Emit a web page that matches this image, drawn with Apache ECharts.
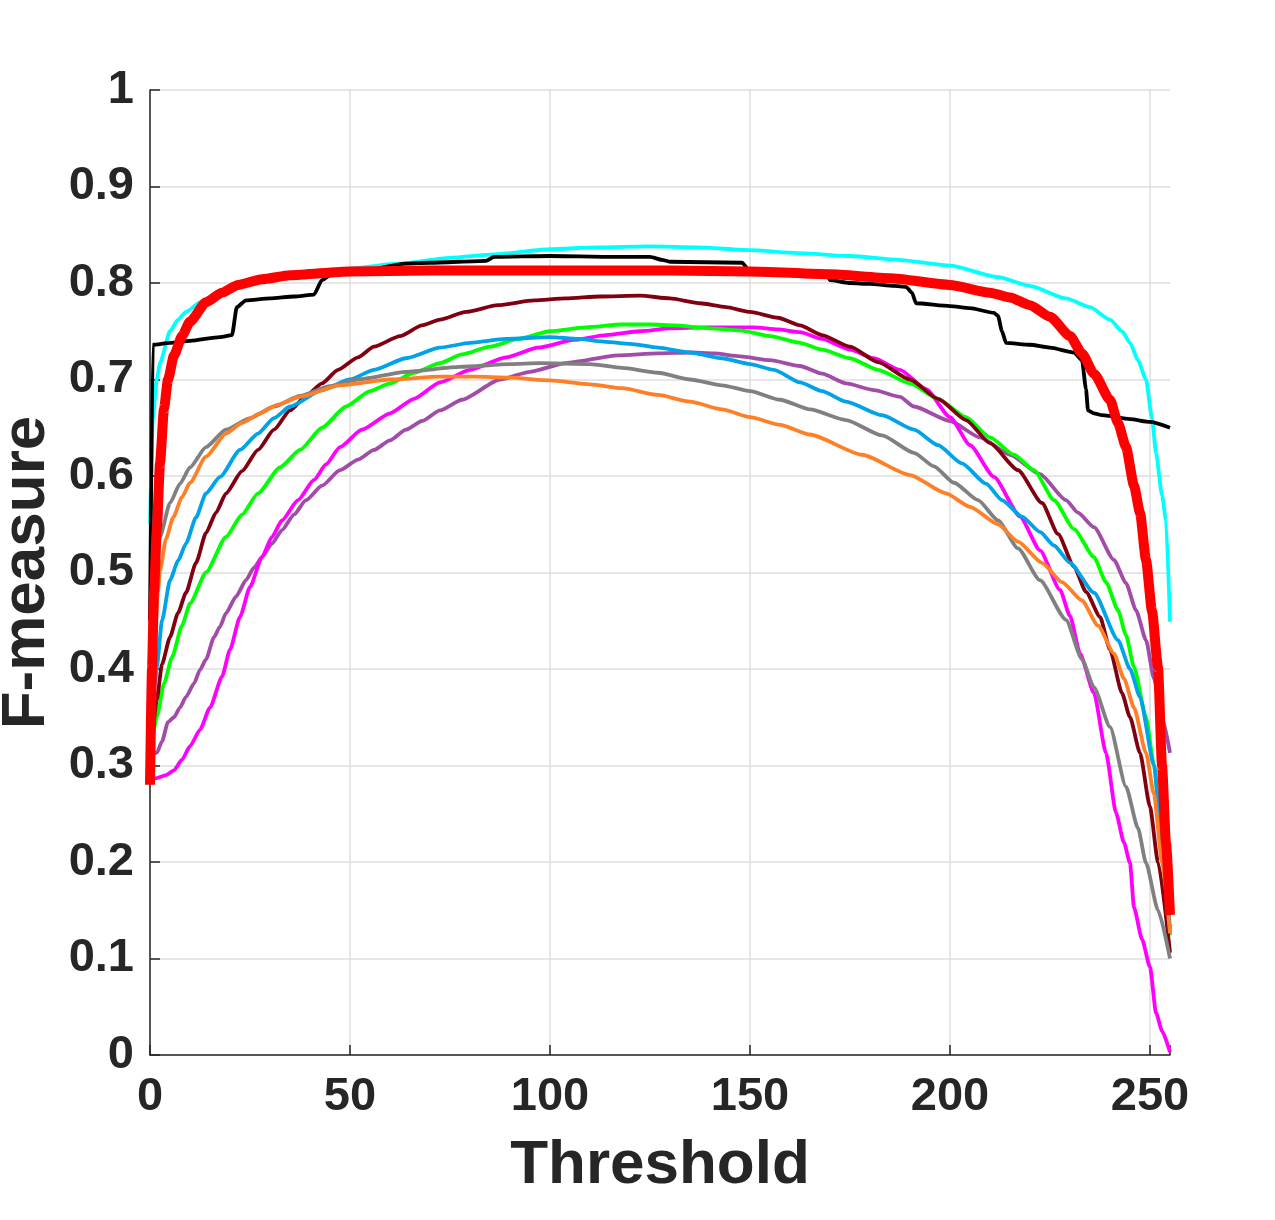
<!DOCTYPE html>
<html>
<head>
<meta charset="utf-8">
<script src="https://cdn.jsdelivr.net/npm/echarts@6/dist/echarts.min.js"></script>
<style>
    html, body { margin: 0; padding: 0; background: #fff; }
    #chart { width: 1275px; height: 1220px; }
</style>
</head>
<body>
<div id="chart"></div>
<script>
    // threshold / F-measure pairs
    var purplePts = [[0,0.313],[1.7,0.313],[3,0.325],[4.5,0.345],[6,0.35],[7.5,0.36],[9,0.371],[11,0.385],[12.5,0.399],[14,0.41],[16,0.433],[17.5,0.444],[19,0.458],[21.5,0.475],[24,0.492],[26,0.505],[28,0.516],[30.5,0.53],[33,0.544],[36,0.56],[39,0.575],[43,0.59],[47.5,0.606],[52,0.617],[56,0.627],[60,0.637],[64,0.648],[68,0.657],[72.5,0.668],[78,0.679],[87.5,0.70],[95,0.708],[104,0.717],[117,0.725],[127,0.727],[135,0.728],[141,0.727],[147.5,0.724],[155,0.72],[162.5,0.714],[168,0.706],[174,0.696],[181,0.689],[187.5,0.682],[191,0.672],[200,0.657],[207.5,0.64],[215,0.622],[222.5,0.602],[229,0.575],[232,0.562],[236,0.547],[241,0.513],[244,0.489],[246.5,0.461],[249,0.43],[251,0.39],[253,0.35],[255,0.313]];
    var magentaPts = [[0,0.285],[1.7,0.287],[4,0.29],[6,0.295],[8,0.306],[10,0.32],[12.5,0.337],[15,0.36],[18,0.392],[20,0.42],[22.5,0.454],[25,0.485],[28,0.516],[30.5,0.537],[33,0.554],[37,0.575],[41,0.596],[44,0.612],[47.5,0.63],[53,0.648],[60,0.665],[66,0.68],[72.5,0.697],[80,0.71],[89,0.723],[97,0.733],[106,0.741],[114,0.746],[122.5,0.75],[130,0.753],[139,0.754],[151,0.754],[157,0.752],[162.5,0.749],[168,0.742],[175,0.731],[181,0.722],[187.5,0.71],[194,0.69],[200,0.661],[205,0.632],[211,0.599],[217.5,0.558],[222.5,0.523],[227.5,0.482],[230,0.455],[232.5,0.416],[236,0.375],[239,0.313],[241.5,0.251],[243.5,0.22],[245,0.199],[246,0.153],[248,0.12],[250,0.091],[251.5,0.044],[253,0.025],[255,0.003]];
    var greenPts = [[0,0.31],[1.7,0.35],[3.5,0.385],[5.5,0.412],[8,0.445],[10,0.468],[14,0.50],[19,0.537],[23,0.56],[27,0.582],[32.5,0.609],[37.5,0.627],[43,0.65],[49,0.672],[55,0.688],[60,0.696],[66,0.707],[72.5,0.717],[78,0.726],[85,0.734],[92,0.742],[100,0.75],[109,0.754],[118,0.757],[125,0.757],[131,0.756],[140,0.753],[147.5,0.751],[155,0.745],[162.5,0.738],[168,0.731],[175,0.722],[182,0.71],[190,0.696],[197,0.68],[204,0.661],[210,0.64],[216,0.622],[221,0.606],[226,0.575],[231,0.545],[236,0.516],[239,0.49],[242,0.461],[244,0.435],[246,0.402],[249,0.35],[251,0.3],[253,0.22],[255,0.124]];
    var darkRedPts = [[0,0.30],[1.7,0.368],[3,0.405],[5,0.433],[7,0.458],[9,0.479],[11.5,0.51],[14,0.541],[16.5,0.562],[19,0.582],[23,0.605],[27,0.627],[31,0.648],[35,0.668],[39,0.683],[43,0.696],[47,0.71],[52,0.723],[56,0.734],[62.5,0.745],[68,0.756],[72.5,0.762],[79,0.77],[87,0.777],[96,0.782],[104,0.784],[112.5,0.786],[122.5,0.787],[130,0.784],[137.5,0.779],[144,0.775],[150,0.77],[157,0.764],[162.5,0.756],[168,0.746],[175,0.734],[182,0.718],[190,0.70],[197,0.68],[204,0.658],[210,0.634],[217,0.606],[223,0.572],[227,0.54],[231,0.506],[234,0.48],[237.5,0.454],[240,0.42],[243,0.375],[245,0.35],[247.5,0.313],[250,0.257],[252,0.2],[255,0.106]];
    var bluePts = [[0,0.33],[1.25,0.385],[1.7,0.402],[3,0.45],[5,0.492],[7,0.512],[9,0.53],[11.5,0.557],[14,0.582],[17.5,0.599],[22.5,0.627],[27,0.644],[31,0.66],[35,0.672],[43,0.689],[50,0.70],[56,0.71],[64,0.722],[72.5,0.733],[80,0.738],[89,0.742],[100,0.744],[107,0.742],[114,0.739],[120,0.737],[127,0.733],[135,0.728],[143,0.722],[150,0.716],[156,0.71],[162.5,0.697],[168,0.688],[174,0.677],[183,0.663],[191,0.648],[197,0.632],[203,0.613],[209,0.592],[213,0.575],[218,0.558],[222.5,0.542],[226,0.528],[230,0.51],[236,0.479],[242,0.43],[245,0.40],[247.5,0.371],[251,0.30],[253,0.22],[255,0.13]];
    var grayPts = [[0,0.45],[1,0.50],[2.5,0.537],[5,0.572],[7.5,0.592],[10,0.609],[14,0.63],[19,0.648],[25,0.66],[31,0.672],[37.5,0.683],[45,0.693],[52,0.70],[64,0.708],[77.5,0.713],[90,0.716],[97.5,0.717],[110,0.716],[118,0.712],[127,0.707],[135,0.70],[143,0.694],[150,0.688],[157.5,0.679],[165,0.669],[174,0.658],[183,0.642],[191,0.624],[196,0.61],[201,0.593],[207,0.575],[212,0.554],[217,0.525],[222.5,0.492],[229,0.451],[233,0.41],[236,0.381],[240,0.34],[244,0.278],[247,0.235],[249,0.199],[252,0.15],[255,0.10]];
    var orangePts = [[0,0.30],[1,0.42],[2,0.48],[2.5,0.502],[4,0.535],[5.8,0.557],[8,0.578],[10,0.593],[14,0.62],[19,0.644],[23,0.655],[27.5,0.665],[32,0.674],[37.5,0.682],[47.5,0.694],[60,0.70],[72.5,0.703],[81,0.703],[90,0.702],[100,0.699],[110,0.695],[118,0.691],[127,0.684],[135,0.677],[143,0.669],[150,0.661],[157.5,0.653],[165,0.643],[178,0.622],[190,0.601],[199,0.582],[205,0.568],[212,0.55],[217,0.532],[223,0.51],[228,0.49],[233,0.471],[237,0.445],[241,0.416],[243.5,0.39],[246,0.36],[249,0.313],[251,0.27],[253,0.2],[255,0.126]];
    var cyanPts = [[0,0.55],[0.7,0.66],[1.7,0.70],[2.5,0.717],[5,0.75],[7,0.762],[9,0.77],[12.5,0.78],[17,0.79],[22,0.797],[30,0.805],[40,0.811],[50,0.815],[62,0.82],[75,0.826],[87,0.83],[100,0.835],[112,0.837],[125,0.838],[137,0.837],[150,0.834],[162,0.831],[175,0.828],[187,0.824],[200,0.818],[212,0.806],[220,0.797],[229,0.784],[235,0.775],[240,0.762],[243,0.75],[245,0.738],[247,0.72],[249,0.70],[250.5,0.66],[251.5,0.624],[253,0.58],[254,0.554],[255,0.449]];
    var blackPts = [[0,0.45],[0.7,0.736],[5,0.738],[10,0.74],[17.5,0.744],[20.5,0.746],[21.7,0.775],[24,0.782],[30,0.784],[36,0.786],[41,0.788],[43,0.803],[45,0.808],[50,0.81],[64,0.82],[70,0.821],[84,0.823],[86,0.827],[100,0.828],[115,0.827],[125,0.827],[128,0.824],[130,0.822],[148,0.821],[150,0.812],[169,0.811],[170,0.803],[175,0.80],[180,0.799],[186,0.797],[189,0.796],[190.5,0.79],[191.5,0.779],[200,0.776],[205,0.774],[211,0.769],[212,0.766],[213,0.75],[214,0.738],[220,0.736],[225,0.733],[231,0.728],[233,0.72],[234,0.69],[234.5,0.668],[236,0.665],[238,0.663],[245,0.659],[250,0.656],[255,0.65]];
    var redPts = [[0,0.28],[0.5,0.40],[1,0.48],[1.7,0.544],[2.5,0.613],[3.5,0.67],[4.5,0.70],[6,0.725],[8,0.745],[10,0.76],[14,0.78],[18,0.79],[22,0.798],[28,0.804],[35,0.808],[50,0.812],[70,0.813],[100,0.813],[130,0.813],[150,0.812],[170,0.809],[185,0.805],[200,0.798],[210,0.79],[215,0.785],[220,0.777],[225,0.765],[230,0.745],[233,0.727],[236,0.706],[240,0.679],[242,0.655],[244,0.63],[246,0.59],[247.5,0.562],[249,0.513],[250.5,0.46],[252,0.402],[253,0.30],[254,0.22],[255,0.145]];

    var xTicks = [0, 50, 100, 150, 200, 250];

    var chartView = echarts.init(document.getElementById('chart'));
    var theFont = 'Liberation Sans, Arial, sans-serif';
    var textColor = '#262626';

    function line(pts, color, width) {
        return {
            type: 'line',
            data: pts,
            symbol: 'none',
            smooth: 0.2,
            smoothMonotone: 'x',
            animation: false,
            lineStyle: {color: color, width: width, join: 'round'},
            itemStyle: {color: color}
        };
    }

    var option = {
        backgroundColor: '#fff',
        animation: false,
        grid: {
            left: 150,
            right: 105,
            top: 90,
            bottom: 165,
            containLabel: false,
            outerBoundsMode: 'none'
        },
        xAxis: {
            type: 'value',
            min: 0,
            max: 255,
            interval: 50,
            name: 'Threshold',
            nameLocation: 'middle',
            nameGap: 80,
            nameTextStyle: {color: textColor, fontSize: 62, fontWeight: 'bold', fontFamily: theFont},
            axisLine: {show: true, onZero: false, lineStyle: {color: textColor, width: 1.5}},
            axisTick: {show: true, inside: true, length: 10, lineStyle: {color: textColor, width: 1.5}},
            axisLabel: {
                color: textColor, fontSize: 47, fontWeight: 'bold', fontFamily: theFont, margin: 19,
                formatter: function (v) { return xTicks.indexOf(v) >= 0 ? String(v) : ''; }
            },
            splitLine: {show: true, showMaxLine: false, lineStyle: {color: '#dedede', width: 1.5}}
        },
        yAxis: {
            type: 'value',
            min: 0,
            max: 1,
            interval: 0.1,
            name: 'F-measure',
            nameLocation: 'middle',
            nameGap: 86,
            nameTextStyle: {color: textColor, fontSize: 62, fontWeight: 'bold', fontFamily: theFont},
            axisLine: {show: true, lineStyle: {color: textColor, width: 1.5}},
            axisTick: {show: true, inside: true, length: 10, lineStyle: {color: textColor, width: 1.5}},
            axisLabel: {
                color: textColor, fontSize: 47, fontWeight: 'bold', fontFamily: theFont, margin: 16,
                formatter: function (v) {
                    var r = Math.round(v * 10) / 10;
                    return (r === 0 || r === 1) ? String(r) : r.toFixed(1);
                }
            },
            splitLine: {show: true, lineStyle: {color: '#dedede', width: 1.5}}
        },
        series: [
            line(purplePts, '#a04ca8', 3.8),
            line(magentaPts, '#ff00ff', 3.8),
            line(greenPts, '#00ff00', 3.8),
            line(darkRedPts, '#800010', 3.8),
            line(bluePts, '#00a2e8', 3.8),
            line(grayPts, '#808080', 3.8),
            line(orangePts, '#ff7f27', 3.8),
            line(cyanPts, '#00ffff', 3.8),
            line(blackPts, '#000000', 3.8),
            line(redPts, '#ff0000', 10)
        ]
    };

    chartView.setOption(option);
</script>
</body>
</html>
